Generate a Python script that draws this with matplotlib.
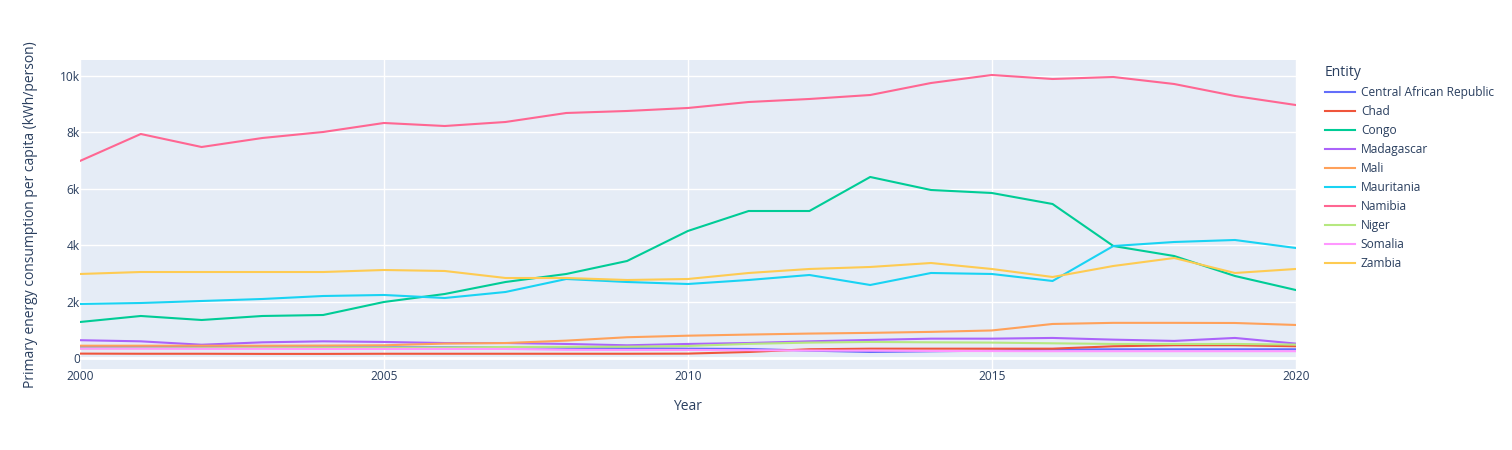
import numpy as np
import matplotlib.pyplot as plt
from matplotlib.ticker import FuncFormatter

years = list(range(2000, 2021))

entities = ["Central African Republic", "Chad", "Congo", "Madagascar", "Mali",
            "Mauritania", "Namibia", "Niger", "Somalia", "Zambia"]

car = [385, 385, 385, 380, 380, 380, 380, 380, 360, 345, 330, 320, 260, 213, 237, 260, 300, 308, 308, 308, 308]
chad = [155, 150, 150, 145, 145, 150, 150, 150, 150, 150, 155, 213, 310, 330, 330, 330, 330, 415, 450, 450, 415]
congo = [1275, 1488, 1346, 1488, 1523, 1984, 2267, 2692, 2976, 3436, 4499, 5207, 5207, 6412, 5951, 5845, 5455, 3967, 3613, 2905, 2409]
madagascar = [630, 590, 470, 555, 590, 568, 530, 530, 497, 450, 497, 530, 590, 640, 685, 685, 710, 650, 605, 710, 510]
mali = [435, 435, 435, 435, 440, 450, 510, 530, 615, 735, 790, 830, 865, 890, 925, 975, 1205, 1245, 1245, 1240, 1170]
mauritania = [1913, 1948, 2019, 2090, 2196, 2232, 2125, 2338, 2798, 2692, 2621, 2763, 2940, 2586, 3011, 2976, 2728, 3967, 4109, 4180, 3897]
namibia = [6980, 7935, 7474, 7793, 8006, 8325, 8218, 8360, 8679, 8750, 8856, 9068, 9175, 9316, 9741, 10025, 9883, 9954, 9706, 9281, 8962]
niger = [340, 345, 350, 355, 360, 365, 370, 390, 395, 400, 425, 500, 545, 568, 555, 545, 520, 497, 497, 497, 475]
somalia = [330, 330, 325, 325, 320, 320, 320, 320, 290, 285, 285, 275, 265, 260, 250, 245, 240, 240, 240, 240, 240]
zambia = [2976, 3046, 3046, 3046, 3046, 3117, 3082, 2834, 2834, 2763, 2798, 3011, 3153, 3224, 3365, 3153, 2869, 3259, 3542, 3011, 3153]

series = [car, chad, congo, madagascar, mali, mauritania, namibia, niger, somalia, zambia]
colors = ["#636efa", "#EF553B", "#00cc96", "#ab63fa", "#FFA15A",
          "#19d3f3", "#FF6692", "#B6E880", "#FF97FF", "#FECB52"]

plt.rcParams['font.family'] = ['Open Sans', 'DejaVu Sans']
txt = "#2a3f5f"

fig = plt.figure(figsize=(15.12, 4.5), dpi=100)
ax = fig.add_axes([80/1512, 81/450, (1295.7-80)/1512, 309/450])
ax.set_facecolor("#E5ECF6")

for name, vals, c in zip(entities, series, colors):
    ax.plot(years, vals, color=c, linewidth=1.5, label=name)

ax.set_xlim(2000, 2020)
ax.set_ylim(-390, 10556)
ax.set_xticks([2000, 2005, 2010, 2015, 2020])
ax.set_yticks([0, 2000, 4000, 6000, 8000, 10000])
ax.yaxis.set_major_formatter(FuncFormatter(lambda v, p: "0" if v == 0 else f"{int(v/1000)}k"))
ax.grid(True, color="white", linewidth=1)
ax.axhline(0, color="white", linewidth=2, zorder=1)
ax.set_axisbelow(True)
for s in ax.spines.values():
    s.set_visible(False)
ax.tick_params(axis="x", length=0, labelsize=8.64, colors=txt, pad=1)
ax.tick_params(axis="y", length=0, labelsize=8.64, colors=txt, pad=0)
ax.set_xlabel("Year", fontsize=10, color=txt, labelpad=11)
ax.set_ylabel("Primary energy consumption per capita (kWh/person)", fontsize=10, color=txt, labelpad=16)

leg = ax.legend(loc="upper left", bbox_to_anchor=(1320/1512, 389.5/450), bbox_transform=fig.transFigure,
                frameon=False, title="Entity", fontsize=8.64, title_fontsize=10,
                handlelength=2.5, handletextpad=0.5, labelspacing=0.5, borderaxespad=0)
leg._legend_box.align = "left"
plt.setp(leg.get_texts(), color=txt)
leg.get_title().set_color(txt)

fig.savefig("out.png", dpi=100)
